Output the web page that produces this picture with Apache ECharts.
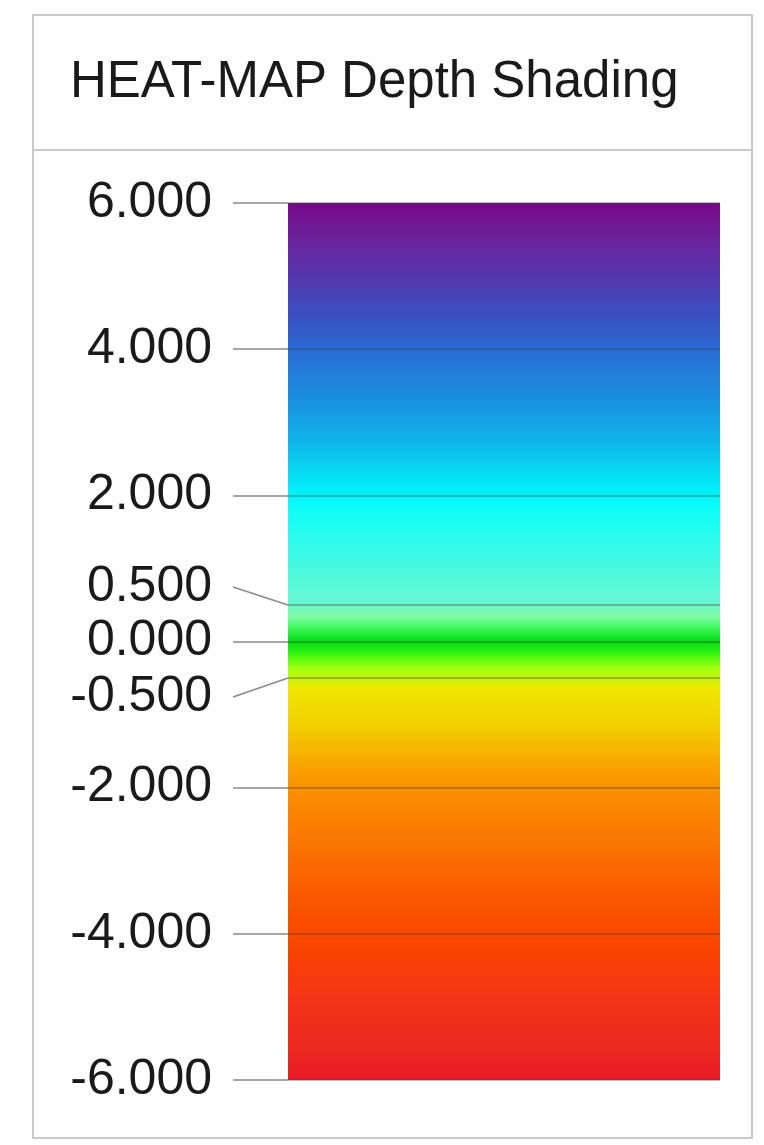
<!DOCTYPE html>
<html>
<head>
<meta charset="utf-8">
<script src="https://cdn.jsdelivr.net/npm/echarts@6/dist/echarts.min.js"></script>
<style>
html,body{margin:0;padding:0;background:#fff;}
#chart{width:764px;height:1145px;}
</style>
</head>
<body>
<div id="chart"></div>
<script>
// ---- data ----
var titleText = 'HEAT-MAP Depth Shading';
var axisMin = -6;
var axisMax = 6;
var axisStep = 2;
// depth values where the colour was sampled (top to bottom)
var stopDepths = [6, 5.4, 4.8, 4.3, 4, 3.3, 2.75, 2.35, 2, 1.8, 1.25, 0.55, 0.35, 0.2, 0, -0.18, -0.35, -0.5, -0.65, -1.2, -1.6, -2, -2.85, -3.5, -4.2, -4.9, -5.6, -6];
var stopColors = ['#780a88', '#6828a0', '#4a40b4', '#3458c8', '#2a6cd4', '#1a90e0', '#10b4ea', '#08d8f2', '#00f4fa', '#10fff8', '#38fae8', '#68f8d0', '#80fca8', '#40f860', '#00dc10', '#40fa10', '#a0ff10', '#c8f408', '#f0e600', '#f2cc00', '#f8aa00', '#fa9000', '#fa7200', '#fa5800', '#fa4400', '#f23418', '#ea2820', '#e81a28'];
// lines drawn across the bar
var gridLineValues = [6, 4, 2, 0.5, 0, -0.5, -2, -4, -6];
// extra ticks whose labels are pulled off their position with a leader line
var leaderTicks = [0.5, -0.5];

// ---- build segments ----
var segments = [];
for (var i = 0; i < stopDepths.length - 1; i++) {
  segments.push([0, stopDepths[i], stopDepths[i + 1], i]);
}

var FONT = '"Liberation Sans", Arial, Helvetica, sans-serif';
var TICK_LEN = 55;
var LABEL_GAP = 21;
var chart = echarts.init(document.getElementById('chart'), null, {renderer: 'canvas'});

var option = {
  backgroundColor: '#ffffff',
  animation: false,
  title: {
    text: titleText,
    left: 70,
    top: 57,
    padding: 0,
    textStyle: {fontFamily: FONT, fontSize: 51, fontWeight: 'normal', color: '#1a1a1a'}
  },
  graphic: [
    {type: 'rect', z: -10, shape: {x: 33, y: 15, width: 719, height: 1123},
     style: {fill: 'rgba(0,0,0,0)', stroke: '#c9c9c9', lineWidth: 2}},
    {type: 'line', z: -10, shape: {x1: 33, y1: 150, x2: 752, y2: 150},
     style: {stroke: '#c9c9c9', lineWidth: 2}}
  ],
  grid: {left: 288, right: 44, top: 203, bottom: 65, containLabel: false},
  xAxis: {type: 'value', min: 0, max: 1, show: false},
  yAxis: {
    type: 'value',
    min: axisMin,
    max: axisMax,
    interval: axisStep,
    axisLine: {show: false},
    axisTick: {show: true, length: TICK_LEN, lineStyle: {color: '#8a8a8a', width: 1.5}},
    axisLabel: {
      margin: TICK_LEN + LABEL_GAP,
      fontFamily: FONT,
      fontSize: 50,
      color: '#1a1a1a',
      formatter: function (v) { return v.toFixed(3); }
    },
    splitLine: {show: false}
  },
  series: [
    {
      type: 'custom',
      name: 'shade',
      data: segments,
      z: 1,
      renderItem: function (params, api) {
        var cs = params.coordSys;
        var idx = api.value(3);
        var p1 = api.coord([0, api.value(1)]);
        var p2 = api.coord([0, api.value(2)]);
        var isLast = idx === stopDepths.length - 2;
        return {
          type: 'rect',
          shape: {x: cs.x, y: p1[1], width: cs.width, height: (p2[1] - p1[1]) + (isLast ? 0 : 1)},
          style: {
            fill: new echarts.graphic.LinearGradient(0, 0, 0, 1, [
              {offset: 0, color: stopColors[idx]},
              {offset: 1, color: stopColors[idx + 1]}
            ])
          }
        };
      },
      markLine: {
        silent: true,
        symbol: 'none',
        label: {show: false},
        lineStyle: {color: 'rgba(60,60,60,0.45)', width: 1.5, type: 'solid'},
        data: gridLineValues.map(function (v) { return {yAxis: v}; })
      }
    },
    {
      type: 'custom',
      name: 'leaders',
      data: leaderTicks.map(function (v) { return [0, v]; }),
      z: 5,
      clip: false,
      renderItem: function (params, api) {
        var cs = params.coordSys;
        var p = api.coord([0, api.value(1)]);
        var off = api.value(1) > 0 ? -18 : 19;
        var x0 = cs.x - TICK_LEN;
        return {
          type: 'group',
          children: [
            {type: 'line', shape: {x1: x0, y1: p[1] + off, x2: cs.x, y2: p[1]},
             style: {stroke: '#8a8a8a', lineWidth: 1.5}},
            {type: 'text', x: x0 - LABEL_GAP, y: p[1] + off,
             style: {text: api.value(1).toFixed(3), fontFamily: FONT, fontSize: 50,
                     fill: '#1a1a1a', align: 'right', verticalAlign: 'middle'}}
          ]
        };
      }
    }
  ]
};
chart.setOption(option);
</script>
</body>
</html>
